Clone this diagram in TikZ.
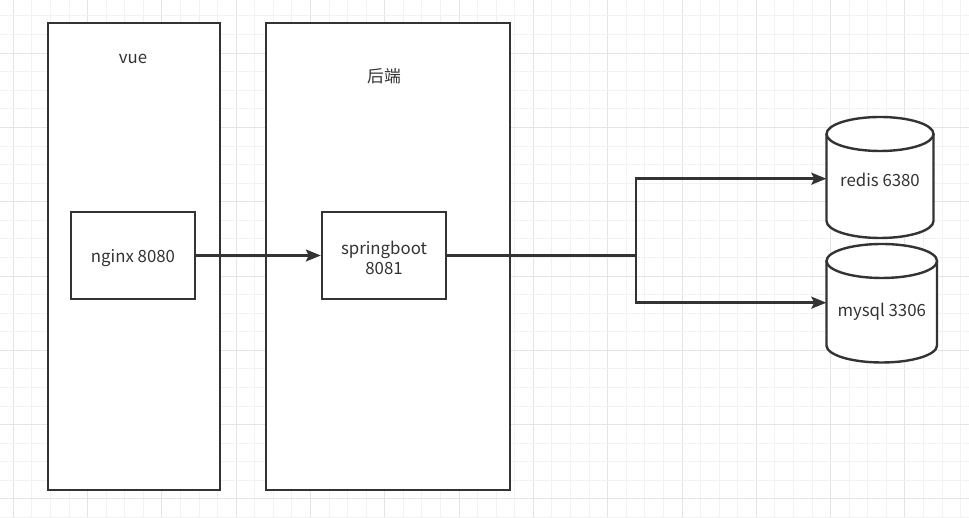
\documentclass[tikz,border=0pt]{standalone}
\usepackage{fontspec}
\setmainfont{Noto Sans CJK SC}
\usetikzlibrary{arrows.meta}
\definecolor{ink}{HTML}{333333}
\definecolor{gridminor}{HTML}{F2F2F2}
\definecolor{gridmajor}{HTML}{E4E4E4}
\tikzset{
  panel/.style={draw=ink, line width=2.4pt, fill=white},
  box/.style={draw=ink, line width=2.4pt, fill=white, inner sep=0pt,
    minimum width=124pt, minimum height=87pt},
  lbl/.style={text=ink, inner sep=0pt, align=center},
  conn/.style={draw=ink, line width=2.4pt},
  arr/.style={conn, -{Stealth[length=15pt,width=12pt,inset=3pt]}},
  cyl/.style={draw=ink, line width=2.4pt, fill=white},
  hole/.style={inner sep=0pt, draw=none},
}
\begin{document}
\begin{tikzpicture}[x=1pt,y=1pt,font=\fontsize{16.8}{20}\selectfont]
\useasboundingbox (0,0) rectangle (969,518);
\fill[white] (0,0) rectangle (969,518);
% grid
\foreach \k in {0,...,52} {
  \pgfmathsetmacro{\gx}{13.3+18.575*\k}
  \pgfmathtruncatemacro{\m}{mod(\k,4)}
  \ifnum\m=0 \draw[gridmajor, line width=1pt] (\gx,0) -- (\gx,518);
  \else \draw[gridminor, line width=1pt] (\gx,0) -- (\gx,518); \fi
}
\foreach \k in {0,...,27} {
  \pgfmathsetmacro{\gy}{518-16-18.575*\k}
  \pgfmathtruncatemacro{\m}{mod(\k+2,4)}
  \ifnum\m=0 \draw[gridmajor, line width=1pt] (0,\gy) -- (969,\gy);
  \else \draw[gridminor, line width=1pt] (0,\gy) -- (969,\gy); \fi
}
% panels
\draw[panel] (48,28) rectangle (220,495);
\draw[panel] (266,28) rectangle (510,495);
\node[lbl] (vuelbl) at (133,459) {vue};
\node[lbl] (belbl) at (384,442) {后端};
% boxes
\node[box] (nginx) at (133,262.5) {};
\node[lbl] (nginxtxt) at (133,259.5) {nginx 8080};
\node[box] (sb) at (384,262.5) {};
\node[lbl] (sbtxt) at (384,260.5) {springboot\\8081};
% cylinders
\draw[cyl] (826.5,384) -- (826.5,297)
  arc[start angle=180, end angle=360, x radius=53.5pt, y radius=17pt]
  -- (933.5,384);
\draw[cyl] (880,384) ellipse [x radius=53.5pt, y radius=17pt];
\draw[cyl] (826.5,257) -- (826.5,172.5)
  arc[start angle=180, end angle=360, x radius=55.25pt, y radius=17pt]
  -- (937,257);
\draw[cyl] (881.75,257) ellipse [x radius=55.25pt, y radius=17pt];
\node[hole, minimum width=107pt, minimum height=20pt] (redis) at (880,339.3) {};
\node[lbl] (redistxt) at (880,338.5) {redis 6380};
\node[hole, minimum width=110.5pt, minimum height=20pt] (mysql) at (881.75,215.3) {};
\node[lbl] (mysqltxt) at (881.75,206) {mysql 3306};
% connectors
\coordinate (j) at (636,262.5);
\draw[arr] (nginx.east) -- (sb.west);
\draw[conn] (sb.east) -- (j);
\draw[arr] (j) |- (redis.west);
\draw[arr] (j) |- (mysql.west);
\end{tikzpicture}
\end{document}
